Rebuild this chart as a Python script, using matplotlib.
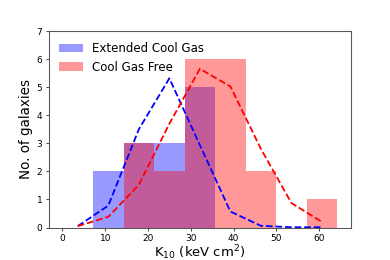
import matplotlib
matplotlib.use('agg')
import matplotlib.pyplot as plt

# histogram bins (keV cm^2)
bin_edges = [0.0, 7.13, 14.27, 21.40, 28.53, 35.67, 42.80, 49.93, 57.07, 64.20]
bin_centers = [3.57, 10.70, 17.83, 24.97, 32.10, 39.23, 46.37, 53.50, 60.63]

ext_counts = [0, 2, 3, 3, 5, 0, 0, 0, 0]
free_counts = [0, 0, 3, 2, 6, 6, 2, 0, 1]

# smoothed curves at the bin centres
ext_curve = [0.05, 0.78, 3.5, 5.32, 2.94, 0.57, 0.06, 0.01, 0.01]
free_curve = [0.05, 0.38, 1.52, 3.7, 5.66, 5.03, 2.8, 0.87, 0.2]

fig = plt.figure(figsize=(6, 4), dpi=65)
ax = fig.add_subplot(111)
fig.subplots_adjust(left=0.125, right=0.9, top=0.88, bottom=0.125)

ax.hist(bin_centers, bins=bin_edges, weights=ext_counts, color='b', alpha=0.4,
        label='Extended Cool Gas')
ax.hist(bin_centers, bins=bin_edges, weights=free_counts, color='r', alpha=0.4,
        label='Cool Gas Free')
ax.plot(bin_centers, ext_curve, 'b--', lw=2)
ax.plot(bin_centers, free_curve, 'r--', lw=2)

ax.set_ylim(0, 7)
ax.set_xlabel('K$_{10}$ (keV cm$^2$)', fontsize=14.5, labelpad=0.5)
ax.set_ylabel('No. of galaxies', fontsize=15)
ax.tick_params(labelsize=10)
for s in ax.spines.values():
    s.set_color('0.35')
    s.set_linewidth(1.2)
ax.legend(loc='upper left', frameon=False, fontsize=13)

fig.savefig('out.png', dpi=65)
